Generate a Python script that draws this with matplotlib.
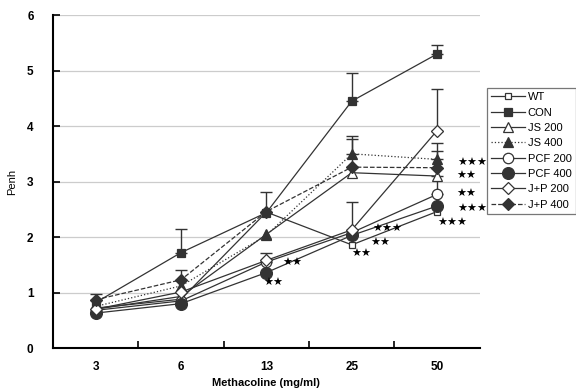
import numpy as np
import matplotlib.pyplot as plt

# doses and series (Penh values)
doses = ['3', '6', '13', '25', '50']
wt = [0.72, 0.88, 2.45, 1.86, 2.46]
con = [0.82, 1.72, 2.44, 4.45, 5.30]
js200 = [0.70, 0.93, 2.05, 3.16, 3.10]
js400 = [0.75, 1.12, 2.03, 3.50, 3.40]
pcf200 = [0.68, 0.85, 1.55, 2.08, 2.77]
pcf400 = [0.63, 0.80, 1.36, 2.03, 2.56]
jp200 = [0.70, 1.01, 1.58, 2.13, 3.92]
jp400 = [0.87, 1.23, 2.46, 3.26, 3.25]

# upper error bars (0 = not shown)
con_err = [0.0, 0.42, 0.37, 0.50, 0.17]
js400_err = [0.0, 0.0, 0.0, 0.32, 0.29]
jp400_err = [0.11, 0.18, 0.0, 0.51, 0.30]
pcf200_err = [0.0, 0.0, 0.17, 0.0, 0.33]
jp200_err = [0.0, 0.0, 0.0, 0.50, 0.75]

# significance marks: (x position, y position, text)
stars_x = [2.19, 1.96, 3.24, 3.22, 2.99, 4.24, 4.22, 4.22, 4.24, 4.0]
stars_y = [1.53, 1.17, 2.14, 1.89, 1.69, 3.33, 3.10, 2.77, 2.50, 2.25]
stars_t = ['★★', '★★', '★★★', '★★', '★★', '★★★', '★★', '★★', '★★★', '★★★']

plt.rcParams['font.family'] = ['Liberation Sans', 'DejaVu Sans']

fig = plt.figure(figsize=(5.76, 3.88), dpi=100)
ax = fig.add_axes([0.092, 0.103, 0.741, 0.858])
x = np.arange(len(doses))

col = '#333333'
series = [
    ('WT', wt, 's', 'white', '-', 5, None),
    ('CON', con, 's', col, '-', 5.5, con_err),
    ('JS 200', js200, '^', 'white', '-', 7.5, None),
    ('JS 400', js400, '^', col, ':', 7.5, js400_err),
    ('PCF 200', pcf200, 'o', 'white', '-', 7.5, pcf200_err),
    ('PCF 400', pcf400, 'o', col, '-', 8.5, None),
    ('J+P 200', jp200, 'D', 'white', '-', 6, jp200_err),
    ('J+P 400', jp400, 'D', col, '--', 6, jp400_err),
]

handles = []
for name, vals, mk, fc, ls, ms, err in series:
    vals = np.array(vals)
    if err is not None:
        err = np.array(err)
        m = err > 0
        ax.errorbar(x[m], vals[m], yerr=[np.zeros(m.sum()), err[m]], fmt='none',
                    ecolor=col, elinewidth=1.0, capsize=4, capthick=1.0, zorder=2)
    h, = ax.plot(x, vals, linestyle=ls, color=col, linewidth=0.9, marker=mk,
                 markersize=ms, markerfacecolor=fc, markeredgecolor=col,
                 markeredgewidth=0.9, label=name, zorder=3)
    handles.append(h)

for sx, sy, st in zip(stars_x, stars_y, stars_t):
    ax.text(sx, sy, st, fontsize=8, ha='left', va='center',
            family=['DejaVu Sans'], color='black')

ax.set_xlim(-0.5, 4.5)
ax.set_ylim(0, 6)
ax.set_yticks(range(0, 7))
ax.set_xticks(x)
ax.set_xticklabels(doses)
ax.set_xticks(np.arange(0.5, 4.0, 1.0), minor=True)
ax.tick_params(axis='x', which='major', length=0, pad=9)
ax.tick_params(axis='x', which='minor', direction='in', length=5, width=1.2)
ax.tick_params(axis='y', direction='in', length=5, width=1.2, pad=14)
for lab in ax.get_xticklabels() + ax.get_yticklabels():
    lab.set_fontweight('bold')
    lab.set_fontsize(8.5)

ax.grid(axis='y', color='#cccccc', linewidth=0.9)
ax.set_axisbelow(True)
ax.spines['top'].set_visible(False)
ax.spines['right'].set_visible(False)
ax.spines['left'].set_linewidth(1.5)
ax.spines['bottom'].set_linewidth(1.5)

ax.set_xlabel('Methacoline (mg/ml)', fontsize=8, fontweight='bold', labelpad=4)
ax.set_ylabel('Penh', fontsize=8, labelpad=7)

leg = fig.legend(handles=handles, loc='upper left', bbox_to_anchor=(0.845, 0.772),
                 fontsize=8, frameon=True, fancybox=False, edgecolor='#555555',
                 handlelength=3.1, handletextpad=0.25, labelspacing=0.48,
                 borderpad=0.35, borderaxespad=0)
leg.get_frame().set_linewidth(0.9)

fig.savefig('out.png', dpi=100)
